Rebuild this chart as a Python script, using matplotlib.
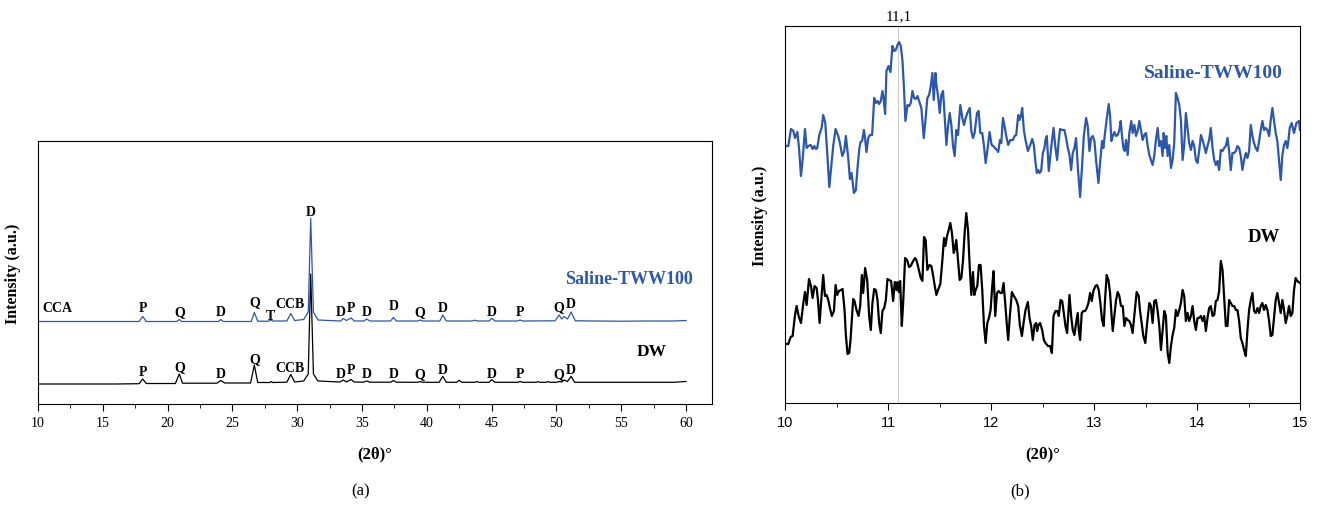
import numpy as np
from matplotlib import pyplot as plt
from matplotlib.ticker import MultipleLocator

#### data ####

# (a) full XRD patterns, intensity in arbitrary units
tt_dw = [10.0, 12.0, 14.0, 16.0, 17.8, 18.08, 18.35, 20.6, 20.9, 21.15, 23.8, 24.1, 24.4,
         26.4, 26.69, 26.95, 27.9, 28.0, 28.1, 29.2, 29.5, 29.8, 30.5, 30.85, 31.04, 31.25,
         31.6, 33.3, 33.56, 33.8, 34.15, 34.4, 35.1, 35.36, 35.6, 37.2, 37.42, 37.65, 39.3,
         39.48, 39.7, 40.95, 41.23, 41.5, 42.3, 42.49, 42.7, 43.7, 43.85, 44.0, 44.8, 45.0,
         45.25, 47.0, 47.19, 47.4, 48.45, 48.58, 48.7, 49.2, 49.35, 49.5, 50.0, 50.2, 50.4,
         50.6, 50.85, 51.13, 51.4, 53.0, 55.0, 57.0, 59.0, 60.0]
int_dw = [20.0, 20.0, 20.0, 20.0, 20.3, 25.0, 20.5, 20.5, 30.0, 20.8, 20.8, 23.5, 21.0,
          21.0, 39.0, 21.5, 21.5, 22.5, 21.5, 21.8, 29.5, 22.0, 23.0, 30.0, 130.0, 30.0,
          23.0, 22.0, 24.0, 22.0, 24.5, 22.0, 21.8, 23.0, 21.8, 21.8, 23.5, 21.8, 21.7,
          22.4, 21.7, 21.7, 27.7, 21.7, 21.7, 23.7, 21.7, 21.7, 22.5, 21.7, 21.7, 24.4,
          21.7, 21.7, 22.5, 21.7, 21.7, 22.4, 21.7, 21.7, 22.4, 21.7, 21.7, 22.5, 22.0,
          24.0, 22.5, 27.7, 21.7, 21.7, 21.7, 21.7, 21.7, 22.5]

tt_sal = [10.0, 11.0, 13.0, 15.0, 17.8, 18.08, 18.35, 20.7, 20.9, 21.1, 23.9, 24.1, 24.3,
          26.45, 26.69, 26.95, 27.8, 27.95, 28.1, 29.2, 29.5, 29.8, 30.5, 30.85, 31.04,
          31.25, 31.6, 33.35, 33.56, 33.8, 34.15, 34.4, 35.15, 35.36, 35.6, 37.2, 37.42,
          37.65, 39.3, 39.48, 39.7, 41.0, 41.23, 41.5, 43.5, 43.7, 43.9, 44.8, 45.0, 45.25,
          47.0, 47.19, 47.4, 49.9, 50.2, 50.4, 50.6, 50.85, 51.13, 51.45, 53.0, 55.0, 57.0,
          59.0, 60.0]
int_sal = [20.5, 20.5, 20.5, 20.5, 20.5, 25.5, 20.5, 20.5, 22.5, 20.5, 20.5, 22.5, 20.5,
           20.5, 29.5, 20.8, 20.8, 22.0, 21.0, 21.0, 28.5, 21.5, 22.5, 30.0, 123.7,
           30.0, 22.0, 21.0, 23.5, 21.5, 24.0, 21.0, 21.0, 23.0, 21.0, 21.0, 24.5,
           21.0, 21.0, 22.0, 21.0, 21.0, 27.0, 21.0, 21.0, 21.8, 21.0, 21.0, 23.7, 21.0,
           21.0, 22.0, 21.0, 21.2, 27.0, 23.0, 25.5, 23.0, 30.0, 21.2, 21.0, 20.8, 21.0,
           21.0, 21.5]
offset_a = 62

# phase labels: (text, 2theta, y)
labels_sal = [('CCA', 11.5, 96), ('P', 18.08, 97), ('Q', 20.9, 92), ('D', 24.1, 92),
              ('Q', 26.69, 102), ('T', 27.95, 89), ('CCB', 29.45, 100), ('D', 31.04, 192),
              ('D', 33.35, 92), ('P', 34.15, 97), ('D', 35.4, 92), ('D', 37.42, 98),
              ('Q', 39.48, 92), ('D', 41.23, 97), ('D', 45.0, 93), ('P', 47.19, 92),
              ('Q', 50.2, 97), ('D', 51.13, 100)]
labels_dw = [('P', 18.08, 32), ('Q', 20.9, 37), ('D', 24.1, 30), ('Q', 26.69, 45),
             ('CCB', 29.45, 37), ('D', 33.35, 30), ('P', 34.15, 35), ('D', 35.4, 30),
             ('D', 37.42, 31), ('Q', 39.48, 30), ('D', 41.23, 35), ('D', 45.0, 31),
             ('P', 47.19, 30), ('Q', 50.2, 30), ('D', 51.13, 35)]

# (b) zoom 10-15 deg
tt_sal_b = [10.000, 10.032, 10.058, 10.081, 10.097, 10.120, 10.136, 10.155, 10.171, 10.194,
            10.210, 10.226, 10.249, 10.268, 10.284, 10.300, 10.313, 10.333, 10.355, 10.371,
            10.391, 10.410, 10.430, 10.452, 10.468, 10.491, 10.517, 10.533, 10.556, 10.575,
            10.591, 10.614, 10.630, 10.646, 10.669, 10.688, 10.704, 10.720, 10.733, 10.749,
            10.766, 10.775, 10.791, 10.808, 10.824, 10.846, 10.866, 10.882, 10.898, 10.914,
            10.930, 10.946, 10.959, 10.972, 10.985, 11.005, 11.024, 11.043, 11.059, 11.076,
            11.092, 11.108, 11.124, 11.140, 11.156, 11.169, 11.189, 11.205, 11.221, 11.237,
            11.253, 11.269, 11.286, 11.302, 11.324, 11.347, 11.363, 11.382, 11.399, 11.415,
            11.431, 11.444, 11.460, 11.470, 11.486, 11.502, 11.518, 11.534, 11.544, 11.567,
            11.583, 11.599, 11.615, 11.631, 11.647, 11.663, 11.680, 11.702, 11.722, 11.738,
            11.754, 11.770, 11.793, 11.809, 11.825, 11.841, 11.864, 11.880, 11.896, 11.915,
            11.932, 11.948, 11.964, 11.986, 12.006, 12.022, 12.038, 12.058, 12.070, 12.087,
            12.100, 12.116, 12.135, 12.148, 12.167, 12.187, 12.213, 12.229, 12.245, 12.264,
            12.277, 12.290, 12.303, 12.319, 12.335, 12.358, 12.381, 12.400, 12.416, 12.429,
            12.445, 12.458, 12.471, 12.487, 12.503, 12.519, 12.529, 12.542, 12.561, 12.584,
            12.607, 12.626, 12.642, 12.658, 12.671, 12.691, 12.713, 12.729, 12.746, 12.762,
            12.778, 12.794, 12.810, 12.826, 12.842, 12.865, 12.884, 12.901, 12.923, 12.939,
            12.956, 12.972, 12.988, 13.004, 13.020, 13.043, 13.059, 13.078, 13.091, 13.107,
            13.127, 13.143, 13.156, 13.169, 13.182, 13.198, 13.214, 13.230, 13.246, 13.259,
            13.272, 13.285, 13.298, 13.311, 13.327, 13.343, 13.362, 13.375, 13.392, 13.408,
            13.424, 13.440, 13.456, 13.472, 13.488, 13.505, 13.521, 13.537, 13.553, 13.569,
            13.585, 13.601, 13.618, 13.634, 13.650, 13.666, 13.676, 13.689, 13.702, 13.715,
            13.731, 13.747, 13.763, 13.779, 13.795, 13.811, 13.828, 13.844, 13.860, 13.876,
            13.892, 13.908, 13.924, 13.941, 13.957, 13.973, 13.989, 14.005, 14.021, 14.038,
            14.054, 14.070, 14.086, 14.102, 14.118, 14.134, 14.151, 14.167, 14.183, 14.199,
            14.215, 14.231, 14.248, 14.264, 14.280, 14.296, 14.312, 14.328, 14.344, 14.361,
            14.377, 14.393, 14.409, 14.425, 14.441, 14.457, 14.474, 14.490, 14.506, 14.522,
            14.538, 14.554, 14.570, 14.587, 14.603, 14.619, 14.635, 14.651, 14.667, 14.684,
            14.700, 14.716, 14.732, 14.748, 14.764, 14.780, 14.797, 14.813, 14.829, 14.845,
            14.861, 14.877, 14.887, 14.900, 14.919, 14.942, 14.965, 14.990, 15.000]
int_sal_b = [87, 87, 104, 102, 95, 101, 85, 57, 73, 104,
             85, 87, 88, 84, 87, 84, 85, 98, 105, 118,
             110, 80, 46, 70, 87, 104, 97, 90, 77, 82,
             97, 75, 54, 60, 40, 43, 65, 83, 91, 92,
             103, 97, 81, 95, 98, 98, 135, 130, 132, 129,
             132, 142, 133, 119, 162, 167, 161, 187, 182, 183,
             188, 191, 187, 173, 143, 112, 128, 127, 130, 142,
             135, 134, 137, 132, 125, 95, 112, 135, 138, 147,
             160, 133, 160, 148, 137, 120, 138, 142, 127, 88,
             107, 120, 108, 87, 77, 103, 98, 128, 115, 108,
             115, 120, 125, 102, 95, 100, 120, 122, 100, 100,
             87, 70, 82, 101, 88, 87, 85, 83, 81, 93,
             90, 115, 105, 97, 88, 93, 93, 97, 98, 118,
             113, 117, 125, 103, 93, 82, 88, 94, 88, 73,
             60, 63, 60, 62, 80, 85, 93, 97, 62, 85,
             105, 85, 73, 93, 104, 103, 103, 95, 85, 78,
             63, 80, 85, 95, 67, 36, 67, 97, 115, 107,
             82, 95, 97, 92, 73, 50, 70, 92, 85, 100,
             117, 129, 117, 92, 97, 101, 97, 98, 103, 112,
             97, 85, 82, 93, 78, 100, 112, 100, 108, 97,
             102, 112, 103, 93, 98, 100, 87, 78, 73, 68,
             77, 93, 105, 87, 92, 77, 100, 85, 97, 77,
             88, 65, 73, 90, 140, 135, 128, 113, 73, 88,
             120, 105, 90, 83, 92, 87, 73, 70, 82, 98,
             93, 87, 80, 87, 93, 105, 85, 73, 68, 72,
             63, 83, 82, 85, 87, 95, 82, 63, 80, 80,
             82, 87, 85, 77, 63, 73, 80, 75, 82, 108,
             97, 90, 85, 82, 92, 103, 112, 103, 105, 103,
             97, 113, 125, 112, 100, 92, 72, 53, 78, 88,
             92, 85, 92, 105, 110, 100, 110, 112, 103]

tt_dw_b = [10.000, 10.032, 10.055, 10.074, 10.097, 10.113, 10.132, 10.155, 10.178, 10.194,
           10.210, 10.233, 10.252, 10.268, 10.287, 10.307, 10.320, 10.336, 10.352, 10.371,
           10.388, 10.404, 10.420, 10.436, 10.455, 10.475, 10.491, 10.507, 10.523, 10.543,
           10.559, 10.578, 10.591, 10.607, 10.623, 10.636, 10.649, 10.662, 10.675, 10.694,
           10.714, 10.730, 10.746, 10.759, 10.778, 10.798, 10.817, 10.833, 10.849, 10.866,
           10.882, 10.898, 10.914, 10.930, 10.946, 10.963, 10.979, 10.995, 11.011, 11.030,
           11.050, 11.066, 11.082, 11.092, 11.105, 11.118, 11.134, 11.147, 11.166, 11.185,
           11.205, 11.221, 11.244, 11.263, 11.279, 11.295, 11.318, 11.334, 11.350, 11.366,
           11.382, 11.402, 11.421, 11.437, 11.454, 11.470, 11.486, 11.508, 11.528, 11.544,
           11.557, 11.573, 11.589, 11.605, 11.621, 11.638, 11.647, 11.663, 11.680, 11.696,
           11.712, 11.728, 11.744, 11.760, 11.777, 11.793, 11.809, 11.825, 11.838, 11.851,
           11.867, 11.883, 11.899, 11.915, 11.932, 11.948, 11.964, 11.980, 11.996, 12.012,
           12.025, 12.041, 12.058, 12.074, 12.090, 12.106, 12.122, 12.138, 12.154, 12.167,
           12.183, 12.203, 12.222, 12.245, 12.264, 12.280, 12.300, 12.316, 12.335, 12.358,
           12.374, 12.390, 12.406, 12.423, 12.439, 12.448, 12.461, 12.477, 12.497, 12.513,
           12.529, 12.552, 12.574, 12.591, 12.607, 12.626, 12.642, 12.658, 12.675, 12.691,
           12.707, 12.723, 12.739, 12.762, 12.778, 12.794, 12.810, 12.826, 12.842, 12.852,
           12.865, 12.881, 12.897, 12.914, 12.930, 12.946, 12.962, 12.978, 12.994, 13.014,
           13.030, 13.046, 13.062, 13.078, 13.094, 13.107, 13.123, 13.140, 13.156, 13.169,
           13.182, 13.198, 13.214, 13.230, 13.246, 13.262, 13.279, 13.295, 13.311, 13.327,
           13.343, 13.359, 13.375, 13.392, 13.414, 13.434, 13.446, 13.463, 13.479, 13.498,
           13.514, 13.537, 13.553, 13.569, 13.585, 13.601, 13.618, 13.634, 13.650, 13.666,
           13.682, 13.698, 13.715, 13.731, 13.747, 13.763, 13.779, 13.795, 13.811, 13.828,
           13.844, 13.860, 13.876, 13.892, 13.908, 13.924, 13.941, 13.957, 13.973, 13.989,
           14.005, 14.021, 14.038, 14.054, 14.070, 14.086, 14.102, 14.118, 14.134, 14.151,
           14.167, 14.183, 14.199, 14.215, 14.231, 14.248, 14.264, 14.280, 14.296, 14.312,
           14.328, 14.344, 14.361, 14.377, 14.393, 14.409, 14.425, 14.441, 14.457, 14.474,
           14.490, 14.506, 14.522, 14.538, 14.554, 14.570, 14.587, 14.603, 14.619, 14.635,
           14.651, 14.667, 14.684, 14.700, 14.716, 14.732, 14.748, 14.764, 14.780, 14.797,
           14.813, 14.829, 14.845, 14.861, 14.877, 14.893, 14.910, 14.926, 14.942, 14.958,
           14.974, 15.000]
int_dw_b = [59, 59, 66, 67, 88, 97, 87, 80, 100, 111,
            98, 124, 117, 105, 117, 115, 103, 80, 103, 128,
            107, 108, 103, 95, 87, 92, 118, 108, 112, 113,
            114, 93, 68, 49, 50, 63, 83, 104, 102, 93,
            87, 97, 128, 110, 135, 123, 87, 73, 100, 114,
            113, 103, 80, 70, 92, 95, 103, 124, 123, 122,
            102, 121, 113, 121, 111, 122, 77, 100, 145, 143,
            136, 137, 142, 145, 142, 135, 125, 122, 166, 163,
            133, 138, 137, 128, 117, 108, 113, 119, 143, 165,
            157, 167, 173, 180, 170, 150, 153, 163, 143, 123,
            125, 142, 170, 190, 173, 137, 108, 131, 108, 113,
            117, 138, 138, 113, 77, 60, 80, 85, 93, 117,
            132, 87, 110, 112, 110, 110, 120, 100, 78, 63,
            87, 111, 107, 103, 97, 78, 67, 80, 93, 101,
            85, 77, 63, 78, 80, 72, 78, 80, 73, 63,
            60, 57, 57, 50, 87, 92, 92, 87, 103, 102,
            90, 77, 70, 108, 87, 73, 68, 80, 90, 73,
            63, 90, 92, 92, 95, 100, 110, 102, 112, 117,
            118, 113, 100, 83, 77, 103, 128, 123, 110, 90,
            72, 87, 103, 111, 107, 97, 97, 77, 85, 83,
            82, 78, 70, 88, 111, 107, 93, 80, 67, 60,
            78, 100, 97, 80, 102, 103, 92, 77, 53, 73,
            92, 87, 50, 40, 57, 68, 75, 93, 87, 93,
            100, 113, 107, 82, 90, 82, 87, 97, 82, 73,
            85, 85, 87, 82, 87, 72, 85, 95, 97, 87,
            88, 102, 103, 112, 142, 133, 105, 77, 77, 103,
            100, 97, 97, 93, 93, 82, 65, 60, 53, 47,
            73, 93, 103, 110, 92, 90, 95, 90, 97, 100,
            93, 98, 93, 82, 67, 68, 85, 103, 110, 100,
            90, 103, 93, 80, 87, 97, 87, 90, 113, 125,
            122, 120]
offset_b = 170

blue = '#2B57AC'

plt.rcParams['font.family'] = ['Liberation Serif', 'DejaVu Serif']

fig = plt.figure(figsize=(13.19, 5.06), dpi=100)

#### (a) ####
ax1 = fig.add_axes([38/1319, 1-405/506, (712-38)/1319, (405-142)/506])
ax1.plot(tt_dw, int_dw, color='black', lw=0.9)
ax1.plot(tt_sal, np.array(int_sal) + offset_a, color=blue, lw=0.9)
for t, x, y in labels_sal:
    ax1.text(x, y, t, ha='center', va='center', fontsize=10, fontweight='bold')
for t, x, y in labels_dw:
    ax1.text(x, y, t, ha='center', va='center', fontsize=10, fontweight='bold')
ax1.text(60.5, 126, 'Saline-TWW100', ha='right', va='center', fontsize=13,
         fontweight='bold', color=blue)
ax1.text(57.35, 53, 'DW', ha='center', va='center', fontsize=12.5, fontweight='bold')
ax1.set_xlim(10, 62)
ax1.set_ylim(0, 263)
ax1.set_yticks([])
ax1.xaxis.set_major_locator(MultipleLocator(5))
ax1.xaxis.set_minor_locator(MultipleLocator(2.5))
ax1.tick_params(axis='x', which='major', direction='out', length=5, labelsize=10)
ax1.tick_params(axis='x', which='minor', direction='out', length=3)
ax1.set_xlabel('(2θ)°', fontsize=12, fontweight='bold', labelpad=12)
ax1.set_ylabel('Intensity (a.u.)', fontsize=11.5, fontweight='bold', labelpad=12)
fig.text(361/1319, 1-491/506, '(a)', ha='center', va='center', fontsize=12)

#### (b) ####
ax2 = fig.add_axes([785/1319, 1-404/506, (1300-785)/1319, (404-27)/506])
ax2.axvline(11.1, color='#c8c8c8', lw=0.7, zorder=0)
ax2.plot(tt_dw_b, int_dw_b, color='black', lw=1.6)
ax2.plot(tt_sal_b, np.array(int_sal_b) + offset_b, color=blue, lw=1.6)
ax2.text(14.83, 330, 'Saline-TWW100', ha='right', va='center', fontsize=14,
         fontweight='bold', color=blue)
ax2.text(14.81, 167, 'DW', ha='right', va='center', fontsize=13.5, fontweight='bold')
ax2.text(11.1, 1.01, '11,1', transform=ax2.get_xaxis_transform(), ha='center',
         va='bottom', fontsize=11)
ax2.set_xlim(10, 15)
ax2.set_ylim(0, 377)
ax2.set_yticks([])
ax2.xaxis.set_major_locator(MultipleLocator(1))
ax2.xaxis.set_minor_locator(MultipleLocator(0.5))
ax2.tick_params(axis='x', which='major', direction='out', length=5, labelsize=10.5)
ax2.tick_params(axis='x', which='minor', direction='out', length=3)
for lab in ax2.get_xticklabels():
    lab.set_fontfamily(['Liberation Sans', 'DejaVu Sans'])
ax2.set_xlabel('(2θ)°', fontsize=12, fontweight='bold', labelpad=12)
ax2.set_ylabel('Intensity (a.u.)', fontsize=11.5, fontweight='bold', labelpad=12)
fig.text(1020/1319, 1-491/506, '(b)', ha='center', va='center', fontsize=12)

plt.savefig('out.png', dpi=100)
